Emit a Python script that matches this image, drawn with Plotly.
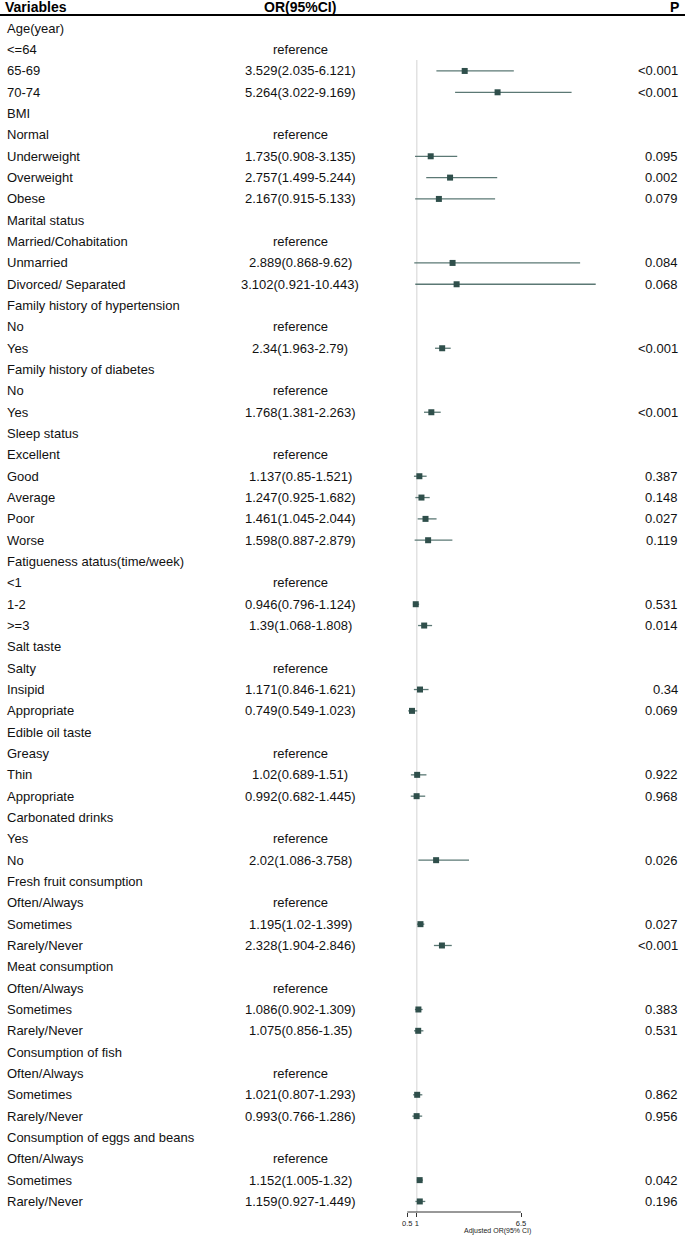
import plotly.graph_objects as go

variables = [
    "Age(year)", "<=64", "65-69", "70-74",
    "BMI", "Normal", "Underweight", "Overweight", "Obese",
    "Marital status", "Married/Cohabitation", "Unmarried", "Divorced/ Separated",
    "Family history of hypertension", "No", "Yes",
    "Family history of diabetes", "No", "Yes",
    "Sleep status", "Excellent", "Good", "Average", "Poor", "Worse",
    "Fatigueness atatus(time/week)", "<1", "1-2", ">=3",
    "Salt taste", "Salty", "Insipid", "Appropriate",
    "Edible oil taste", "Greasy", "Thin", "Appropriate",
    "Carbonated drinks", "Yes", "No",
    "Fresh fruit consumption", "Often/Always", "Sometimes", "Rarely/Never",
    "Meat consumption", "Often/Always", "Sometimes", "Rarely/Never",
    "Consumption of fish", "Often/Always", "Sometimes", "Rarely/Never",
    "Consumption of eggs and beans", "Often/Always", "Sometimes", "Rarely/Never",
]

or_text = [
    "", "reference", "3.529(2.035-6.121)", "5.264(3.022-9.169)",
    "", "reference", "1.735(0.908-3.135)", "2.757(1.499-5.244)", "2.167(0.915-5.133)",
    "", "reference", "2.889(0.868-9.62)", "3.102(0.921-10.443)",
    "", "reference", "2.34(1.963-2.79)",
    "", "reference", "1.768(1.381-2.263)",
    "", "reference", "1.137(0.85-1.521)", "1.247(0.925-1.682)", "1.461(1.045-2.044)", "1.598(0.887-2.879)",
    "", "reference", "0.946(0.796-1.124)", "1.39(1.068-1.808)",
    "", "reference", "1.171(0.846-1.621)", "0.749(0.549-1.023)",
    "", "reference", "1.02(0.689-1.51)", "0.992(0.682-1.445)",
    "", "reference", "2.02(1.086-3.758)",
    "", "reference", "1.195(1.02-1.399)", "2.328(1.904-2.846)",
    "", "reference", "1.086(0.902-1.309)", "1.075(0.856-1.35)",
    "", "reference", "1.021(0.807-1.293)", "0.993(0.766-1.286)",
    "", "reference", "1.152(1.005-1.32)", "1.159(0.927-1.449)",
]

p_text = [
    "", "", "<0.001", "<0.001",
    "", "", "0.095", "0.002", "0.079",
    "", "", "0.084", "0.068",
    "", "", "<0.001",
    "", "", "<0.001",
    "", "", "0.387", "0.148", "0.027", "0.119",
    "", "", "0.531", "0.014",
    "", "", "0.34", "0.069",
    "", "", "0.922", "0.968",
    "", "", "0.026",
    "", "", "0.027", "<0.001",
    "", "", "0.383", "0.531",
    "", "", "0.862", "0.956",
    "", "", "0.042", "0.196",
]

N = None
or_est = [
    N, N, 3.529, 5.264,
    N, N, 1.735, 2.757, 2.167,
    N, N, 2.889, 3.102,
    N, N, 2.34,
    N, N, 1.768,
    N, N, 1.137, 1.247, 1.461, 1.598,
    N, N, 0.946, 1.39,
    N, N, 1.171, 0.749,
    N, N, 1.02, 0.992,
    N, N, 2.02,
    N, N, 1.195, 2.328,
    N, N, 1.086, 1.075,
    N, N, 1.021, 0.993,
    N, N, 1.152, 1.159,
]
ci_low = [
    N, N, 2.035, 3.022,
    N, N, 0.908, 1.499, 0.915,
    N, N, 0.868, 0.921,
    N, N, 1.963,
    N, N, 1.381,
    N, N, 0.85, 0.925, 1.045, 0.887,
    N, N, 0.796, 1.068,
    N, N, 0.846, 0.549,
    N, N, 0.689, 0.682,
    N, N, 1.086,
    N, N, 1.02, 1.904,
    N, N, 0.902, 0.856,
    N, N, 0.807, 0.766,
    N, N, 1.005, 0.927,
]
ci_high = [
    N, N, 6.121, 9.169,
    N, N, 3.135, 5.244, 5.133,
    N, N, 9.62, 10.443,
    N, N, 2.79,
    N, N, 2.263,
    N, N, 1.521, 1.682, 2.044, 2.879,
    N, N, 1.124, 1.808,
    N, N, 1.621, 1.023,
    N, N, 1.51, 1.445,
    N, N, 3.758,
    N, N, 1.399, 2.846,
    N, N, 1.309, 1.35,
    N, N, 1.293, 1.286,
    N, N, 1.32, 1.449,
]

tick_vals = [0.5, 1, 6.5]
tick_text = ["0.5", "1", "6.5"]
headers = ["Variables", "OR(95%CI)", "P"]
axis_title = "Adjusted OR(95% CI)"

W, H = 685, 1239
rows = list(range(1, len(variables) + 1))

# points with estimates
px, py, pe_plus, pe_minus = [], [], [], []
for r, e, lo, hi in zip(rows, or_est, ci_low, ci_high):
    if e is not None:
        px.append(e)
        py.append(r)
        pe_plus.append(hi - e)
        pe_minus.append(e - lo)

FONT = "Liberation Sans, Arial, Helvetica, sans-serif"

fig = go.Figure()
fig.add_trace(go.Scatter(
    x=px, y=py, mode="markers",
    marker=dict(symbol="square", size=6, color="#2F4F4B"),
    error_x=dict(type="data", symmetric=False, array=pe_plus, arrayminus=pe_minus,
                 width=0, thickness=1.3, color="#5B7874"),
    showlegend=False, hoverinfo="skip",
))

annotations = []
for r, v, o, p in zip(rows, variables, or_text, p_text):
    annotations.append(dict(x=5 / W, y=r, xref="paper", yref="y", text=v,
                            xanchor="left", yanchor="middle", showarrow=False,
                            font=dict(family=FONT, size=13, color="#111")))
    if o:
        annotations.append(dict(x=300 / W, y=r, xref="paper", yref="y", text=o,
                                xanchor="center", yanchor="middle", showarrow=False,
                                font=dict(family=FONT, size=13, color="#111")))
    if p:
        annotations.append(dict(x=680 / W, y=r, xref="paper", yref="y", text=p,
                                xanchor="right", yanchor="middle", showarrow=False,
                                font=dict(family=FONT, size=13, color="#111")))

hdr_font = dict(family=FONT, size=14, color="#000")
annotations.append(dict(x=3 / W, y=0, xref="paper", yref="y", text="<b>%s</b>" % headers[0],
                        xanchor="left", yanchor="middle", showarrow=False, font=hdr_font))
annotations.append(dict(x=300 / W, y=0, xref="paper", yref="y", text="<b>%s</b>" % headers[1],
                        xanchor="center", yanchor="middle", showarrow=False, font=hdr_font))
annotations.append(dict(x=681 / W, y=0, xref="paper", yref="y", text="<b>%s</b>" % headers[2],
                        xanchor="right", yanchor="middle", showarrow=False, font=hdr_font))

plot_bottom = 1212
annotations.append(dict(x=497 / W, y=-(1231 - plot_bottom) / plot_bottom, xref="paper", yref="paper",
                        text=axis_title, xanchor="center", yanchor="middle", showarrow=False,
                        font=dict(family=FONT, size=7, color="#222")))

# pixel geometry
x05, ppu = 407.3, 18.95
xr = [0.5 - x05 / ppu, 0.5 + (W - x05) / ppu]
row1, step = 28.3, 21.33
yr = [1 + (plot_bottom - row1) / step, 1 - row1 / step]

shapes = [
    dict(type="line", xref="paper", yref="paper", x0=0, x1=1,
         y0=1 - 15 / plot_bottom, y1=1 - 15 / plot_bottom, line=dict(color="#000", width=2)),
    dict(type="line", xref="x", yref="y", x0=1, x1=1,
         y0=1 + (60 - row1) / step, y1=yr[0], line=dict(color="#E2E2E2", width=1.5), layer="below"),
    dict(type="line", xref="x", yref="paper", x0=tick_vals[0], x1=tick_vals[-1],
         y0=0, y1=0, line=dict(color="#333", width=1)),
]

fig.update_layout(
    width=W, height=H,
    margin=dict(l=0, r=0, t=0, b=H - plot_bottom),
    paper_bgcolor="white", plot_bgcolor="white",
    xaxis=dict(range=xr, showgrid=False, zeroline=False, showline=False,
               ticks="outside", ticklen=4, tickcolor="#333", tickwidth=1,
               tickvals=tick_vals, ticktext=tick_text, tickangle=0,
               tickfont=dict(family=FONT, size=7.5, color="#222"), fixedrange=True),
    yaxis=dict(range=yr, showgrid=False, zeroline=False, showline=False,
               showticklabels=False, ticks="", fixedrange=True),
    annotations=annotations, shapes=shapes,
)

fig.write_html("out.html", config={"displayModeBar": False},
               post_script="document.body.style.margin='0';document.body.style.overflow='hidden';")
